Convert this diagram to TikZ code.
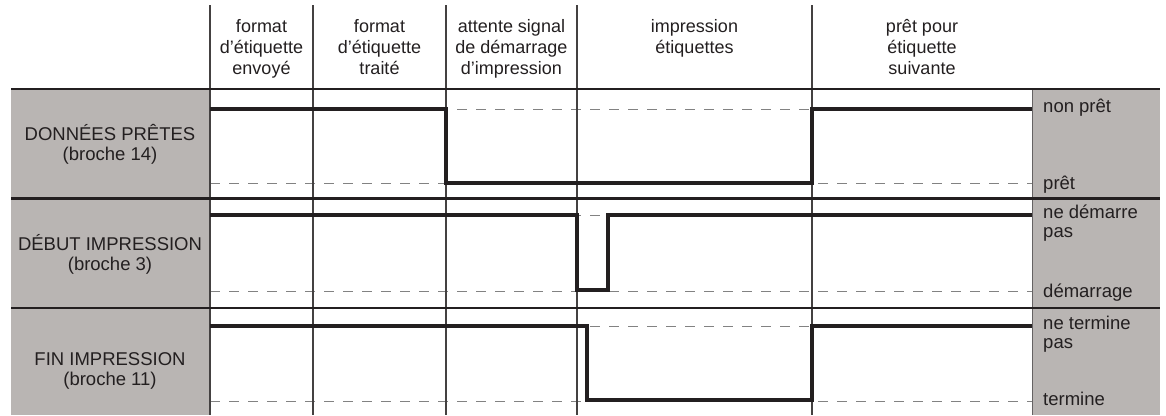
\documentclass[tikz,border=0pt]{standalone}
\usepackage{fontspec}
\setmainfont{Liberation Sans}
\definecolor{panelgray}{RGB}{185,181,179}
\definecolor{ink}{RGB}{35,31,32}
\definecolor{dashgray}{RGB}{130,130,130}
\tikzset{
  hdr/.style={font=\fontsize{18}{21}\selectfont, text=ink, anchor=base, inner sep=0pt},
  lbl/.style={font=\fontsize{18.5}{20}\selectfont, text=ink, anchor=base, inner sep=0pt},
  rlbl/.style={font=\fontsize{18.5}{19}\selectfont, text=ink, anchor=base west, inner sep=0pt},
  gridline/.style={draw=ink!85, line width=1.2pt},
  sepline/.style={draw=ink, line width=2.2pt},
  refline/.style={draw=dashgray, line width=1pt, dash pattern=on 10pt off 9pt},
  signal/.style={draw=ink, line width=4.5pt, line join=miter, line cap=butt}
}
\begin{document}
\begin{tikzpicture}[x=1pt,y=-1pt]
\useasboundingbox (0,0) rectangle (1166,415);
% panels
\fill[panelgray] (11,89) rectangle (210,415);
\fill[panelgray] (1032,89) rectangle (1160,415);
% reference dashed levels
\foreach \yy in {109,183,215,291,326,401}
  \draw[refline] (210,\yy) -- (1032,\yy);
% vertical grid lines
\foreach \xx in {210,313,446,577,812}
  \draw[gridline] (\xx,5) -- (\xx,415);
\draw[draw=ink!70, line width=0.8pt] (1032,89) -- (1032,415);
% horizontal separators
\draw[draw=ink, line width=1.4pt] (11,89) -- (1160,89);
\draw[sepline] (11,198.5) -- (1160,198.5);
\draw[sepline] (11,308) -- (1160,308);
% signals
\draw[signal] (210,109) -- (446,109) -- (446,183) -- (812,183) -- (812,109) -- (1032,109);
\draw[signal] (210,215) -- (577,215) -- (577,290) -- (608,290) -- (608,215) -- (1032,215);
\draw[signal] (210,326) -- (587,326) -- (587,400) -- (812,400) -- (812,326) -- (1032,326);
% header texts
\node[hdr] (h1a) at (261.5,32) {format};
\node[hdr] (h1b) at (261.5,53) {d’étiquette};
\node[hdr] (h1c) at (261.5,74) {envoyé};
\node[hdr] (h2a) at (379.5,32) {format};
\node[hdr] (h2b) at (379.5,53) {d’étiquette};
\node[hdr] (h2c) at (379.5,74) {traité};
\node[hdr] (h3a) at (511.5,32) {attente signal};
\node[hdr] (h3b) at (511.5,53) {de démarrage};
\node[hdr] (h3c) at (511.5,74) {d’impression};
\node[hdr] (h4a) at (694.5,32) {impression};
\node[hdr] (h4b) at (694.5,53) {étiquettes};
\node[hdr] (h5a) at (922,32) {prêt pour};
\node[hdr] (h5b) at (922,53) {étiquette};
\node[hdr] (h5c) at (922,74) {suivante};
% left labels
\node[lbl] (l1a) at (110,140) {DONNÉES PRÊTES};
\node[lbl] (l1b) at (110,160) {(broche 14)};
\node[lbl] (l2a) at (110,250) {DÉBUT IMPRESSION};
\node[lbl] (l2b) at (110,270) {(broche 3)};
\node[lbl] (l3a) at (110,365) {FIN IMPRESSION};
\node[lbl] (l3b) at (110,385) {(broche 11)};
% right labels
\node[rlbl] (r1a) at (1043,112) {non prêt};
\node[rlbl] (r1b) at (1043,189) {prêt};
\node[rlbl] (r2a) at (1043,218) {ne démarre};
\node[rlbl] (r2b) at (1043,237) {pas};
\node[rlbl] (r2c) at (1043,297) {démarrage};
\node[rlbl] (r3a) at (1043,329) {ne termine};
\node[rlbl] (r3b) at (1043,348) {pas};
\node[rlbl] (r3c) at (1043,405) {termine};
\end{tikzpicture}
\end{document}
